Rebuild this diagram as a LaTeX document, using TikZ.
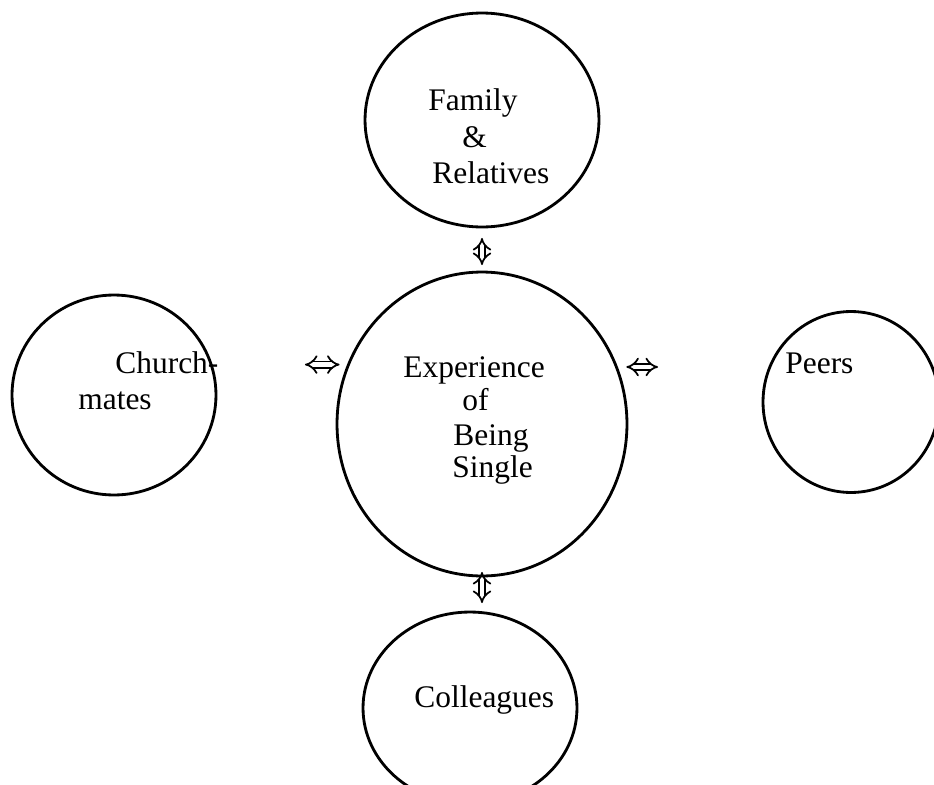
\documentclass[tikz,border=0pt]{standalone}
\usepackage{fontspec}
\setmainfont{Liberation Serif}
\usetikzlibrary{shapes.geometric,arrows.meta}
\tikzset{
	ring/.style={draw,ellipse,line width=1.6pt,inner sep=0pt,outer sep=0pt},
	word/.style={anchor=base west,inner sep=0pt,font=\fontsize{17.9}{20}\selectfont},
	dbl/.style={double,double distance=2.6pt,line width=1pt,{Implies}-{Implies}}
}
\begin{document}
\begin{tikzpicture}[x=0.02cm,y=-0.02cm]
\useasboundingbox (0,0) rectangle (934,785);
\node[ring,minimum width=4.68cm,minimum height=4.28cm] (fam) at (482,120) {};
\node[ring,minimum width=5.8cm,minimum height=6.08cm] (exp) at (482,424) {};
\node[ring,minimum width=4.08cm,minimum height=4.0cm] (church) at (114,395) {};
\node[ring,minimum width=3.52cm,minimum height=3.62cm] (peers) at (851,402) {};
\node[ring,minimum width=4.28cm,minimum height=3.84cm] (coll) at (470,708) {};

\node[word] (famA) at (428,110) {Family};
\node[word] (famB) at (462,147) {\&};
\node[word] (famC) at (432,183) {Relatives};
\node[word] (expA) at (403,377) {Experience};
\node[word] (expB) at (462,410) {of};
\node[word] (expC) at (453,445) {Being};
\node[word] (expD) at (452,477) {Single};
\node[word] (churchA) at (115,373) {Church-};
\node[word] (churchB) at (78,409) {mates};
\node[word] (peersA) at (785,373) {Peers};
\node[word] (collA) at (414,707) {Colleagues};

\draw[dbl,shorten <=0.22cm,shorten >=0.14cm] (fam.south) -- (exp.north);
\draw[dbl,shorten <=-0.08cm,shorten >=0.18cm] (exp.south) -- (exp.south |- coll.north);
\draw[dbl,shorten <=1.78cm,shorten >=0.18cm] (church.east |- exp.156.6) -- (exp.156.6);
\draw[dbl,shorten <=0.2cm,shorten >=2.1cm] (exp.23.4) -- (peers.west |- exp.23.4);
\end{tikzpicture}
\end{document}
